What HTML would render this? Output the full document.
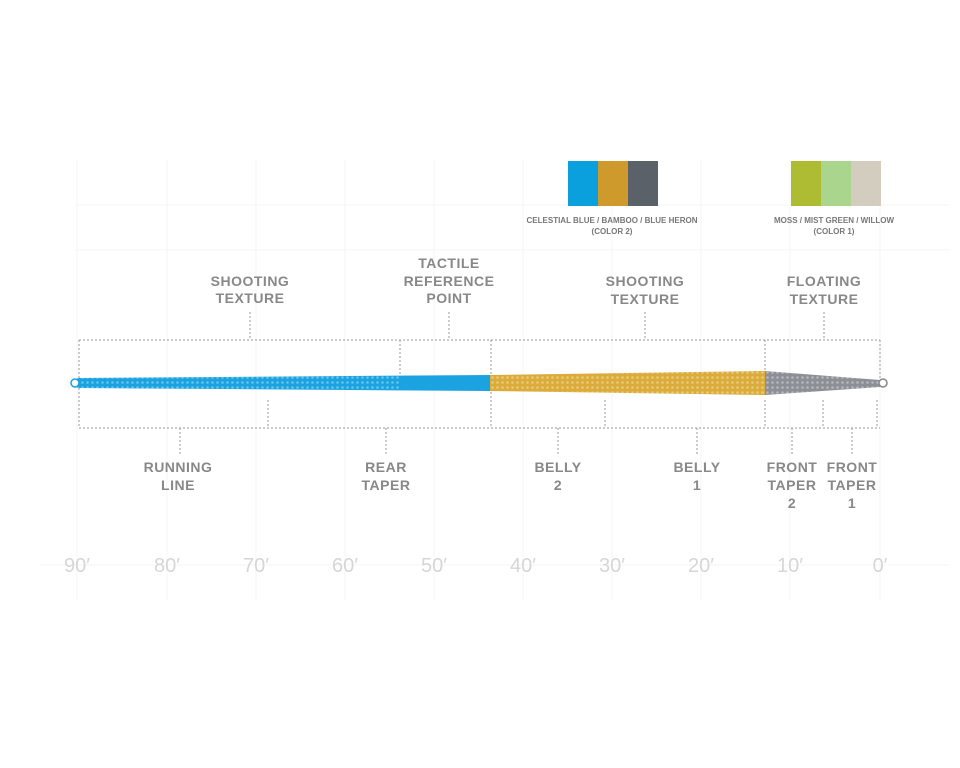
<!DOCTYPE html>
<html><head><style>body{margin:0;background:#fff}svg{display:block}</style></head><body>
<svg width="960" height="768" xmlns="http://www.w3.org/2000/svg" font-family="Liberation Sans, sans-serif">
<defs>
<pattern id="hx" width="5" height="5" patternUnits="userSpaceOnUse"><circle cx="2.5" cy="2.5" r="1.3" fill="#fff" fill-opacity="0.35"/></pattern>
</defs>
<g stroke="#f6f6f6" stroke-width="1">
<line x1="77" y1="160" x2="77" y2="600"/><line x1="167" y1="160" x2="167" y2="600"/><line x1="256" y1="160" x2="256" y2="600"/><line x1="345" y1="160" x2="345" y2="600"/><line x1="434" y1="160" x2="434" y2="600"/><line x1="523" y1="160" x2="523" y2="600"/><line x1="612" y1="160" x2="612" y2="600"/><line x1="701" y1="160" x2="701" y2="600"/><line x1="790" y1="160" x2="790" y2="600"/><line x1="880" y1="160" x2="880" y2="600"/>
<line x1="75" y1="205" x2="950" y2="205"/><line x1="75" y1="250" x2="950" y2="250"/><line x1="40" y1="565" x2="950" y2="565"/>
</g>
<rect x="568" y="161" width="30" height="45" fill="#0aa0dd"/><rect x="598" y="161" width="30" height="45" fill="#cf9a2c"/><rect x="628" y="161" width="30" height="45" fill="#5b6168"/>
<rect x="791" y="161" width="30" height="45" fill="#aebc34"/><rect x="821" y="161" width="30" height="45" fill="#a9d68c"/><rect x="851" y="161" width="30" height="45" fill="#d3cdbf"/>
<g fill="#777" font-size="8" font-weight="bold" text-anchor="middle">
<text x="612" y="223">CELESTIAL BLUE / BAMBOO / BLUE HERON</text><text x="612" y="234">(COLOR 2)</text>
<text x="834" y="223">MOSS / MIST GREEN / WILLOW</text><text x="834" y="234">(COLOR 1)</text>
</g>
<g stroke="#aaa" stroke-width="1.2" stroke-dasharray="2,2" fill="none">
<path d="M79 340H880M79 428H880"/>
<path d="M79 340V380M400 340V380M491 340V380M765 340V380M880 340V380"/>
<path d="M79 388V428M268 400V428M491 388V428M605 400V428M765 400V428M823 400V428M877 400V428"/>
<path d="M250 312V340M449 312V340M645 312V340M824 312V340"/>
<path d="M180 428V455M386 428V455M558 428V455M697 428V455M792 428V455M852 428V455"/>
</g>
<path d="M77 378 L490 375 L490 391 L77 388 Z" fill="#1aa3e0"/>
<path d="M77 378 L400 376 L400 390 L77 388 Z" fill="url(#hx)"/>
<path d="M490 375 L765 371 L765 395 L490 391 Z" fill="#dcac3a"/>
<path d="M490 375 L765 371 L765 395 L490 391 Z" fill="url(#hx)"/>
<path d="M765 371 L880 380 L880 387 L765 395 Z" fill="#8c9096"/>
<path d="M765 371 L880 380 L880 387 L765 395 Z" fill="url(#hx)"/>
<circle cx="75" cy="383" r="4" fill="#fff" stroke="#1aa3e0" stroke-width="1.5"/>
<circle cx="883" cy="383" r="4" fill="#fff" stroke="#888" stroke-width="1.5"/>
<g fill="#888" font-size="14" font-weight="bold" text-anchor="middle" letter-spacing="0.5">
<text x="250" y="286">SHOOTING</text><text x="250" y="303">TEXTURE</text>
<text x="449" y="268">TACTILE</text><text x="449" y="286">REFERENCE</text><text x="449" y="303">POINT</text>
<text x="645" y="286">SHOOTING</text><text x="645" y="304">TEXTURE</text>
<text x="824" y="286">FLOATING</text><text x="824" y="304">TEXTURE</text>
<text x="178" y="472">RUNNING</text><text x="178" y="490">LINE</text>
<text x="386" y="472">REAR</text><text x="386" y="490">TAPER</text>
<text x="558" y="472">BELLY</text><text x="558" y="490">2</text>
<text x="697" y="472">BELLY</text><text x="697" y="490">1</text>
<text x="792" y="472">FRONT</text><text x="792" y="490">TAPER</text><text x="792" y="508">2</text>
<text x="852" y="472">FRONT</text><text x="852" y="490">TAPER</text><text x="852" y="508">1</text>
</g>
<g fill="#d6d6d6" font-size="20" text-anchor="middle">
<text x="77" y="572">90′</text><text x="167" y="572">80′</text><text x="256" y="572">70′</text><text x="345" y="572">60′</text><text x="434" y="572">50′</text><text x="523" y="572">40′</text><text x="612" y="572">30′</text><text x="701" y="572">20′</text><text x="790" y="572">10′</text><text x="880" y="572">0′</text>
</g>
</svg>
</body></html>
